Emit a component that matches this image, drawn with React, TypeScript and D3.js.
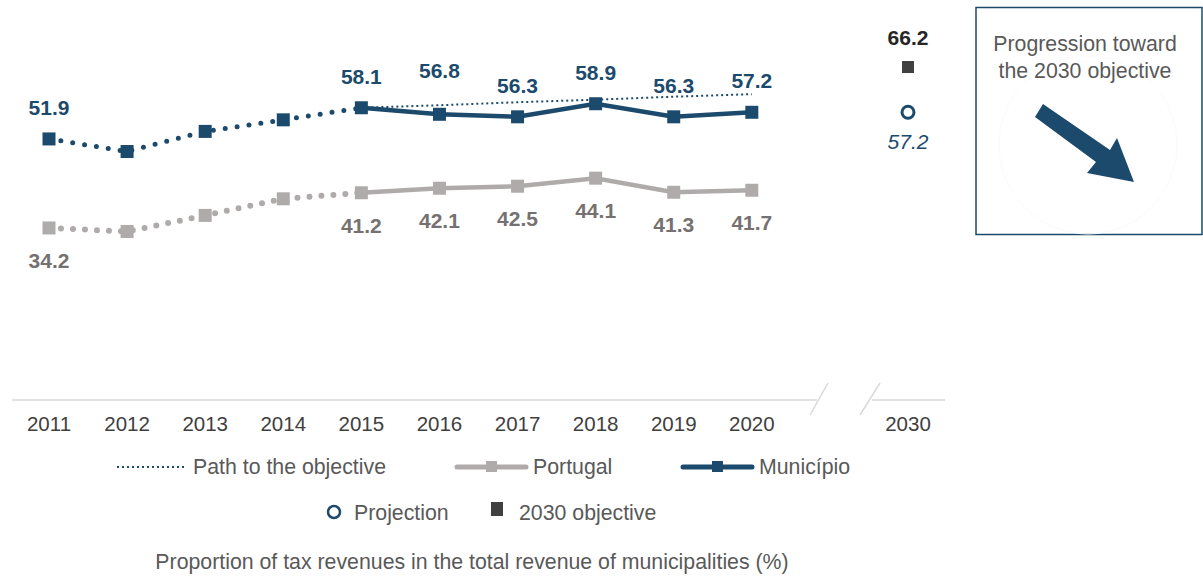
import React, { useEffect, useRef } from "react";
import * as d3 from "d3";

const years = ["2011", "2012", "2013", "2014", "2015", "2016", "2017", "2018", "2019", "2020"];
const slots = [...years, "gap", "2030"];
const municipio = [51.9, 49.4, 53.4, 55.7, 58.1, 56.8, 56.3, 58.9, 56.3, 57.2];
const portugal = [34.2, 33.5, 36.7, 40.0, 41.2, 42.1, 42.5, 44.1, 41.3, 41.7];
const pathYears = ["2015", "2016", "2017", "2018", "2019", "2020"];
const pathValues = [58.1, 58.6, 59.2, 59.7, 60.3, 60.8];
const labelledMunicipio = ["2011", "2015", "2016", "2017", "2018", "2019", "2020"];
const labelledPortugal = ["2011", "2015", "2016", "2017", "2018", "2019", "2020"];
const objective2030 = 66.2;
const projection2030 = 57.2;

const NAVY = "#1c4a6c";
const GREY = "#afabab";
const LABEL_GREY = "#767171";
const TEXT = "#595959";
const FONT = "'Liberation Sans', Arial, sans-serif";

const W = 1203;
const H = 577;

const App: React.FC = () => {
  const svgRef = useRef<SVGSVGElement | null>(null);

  useEffect(() => {
    if (!svgRef.current) return;
    const svg = d3.select(svgRef.current);
    svg.selectAll("*").remove();

    const x = d3.scalePoint<string>().domain(slots).range([49, 908]);
    const y = d3.scaleLinear().domain([0, objective2030]).range([400, 400 - objective2030 * 5.03]);

    const mun = years.map((yr, i) => ({ yr, v: municipio[i] }));
    const por = years.map((yr, i) => ({ yr, v: portugal[i] }));
    const line = d3
      .line<{ yr: string; v: number }>()
      .x((d) => x(d.yr)!)
      .y((d) => y(d.v));

    // axis with break
    const axisG = svg.append("g");
    axisG.append("line").attr("x1", 12).attr("x2", 817).attr("y1", 400).attr("y2", 400)
      .attr("stroke", "#d9d9d9").attr("stroke-width", 1.5);
    axisG.append("line").attr("x1", 872).attr("x2", 945).attr("y1", 400).attr("y2", 400)
      .attr("stroke", "#d9d9d9").attr("stroke-width", 1.5);
    [[828, 810], [880, 860]].forEach(([a, b]) => {
      axisG.append("line").attr("x1", a).attr("y1", 383).attr("x2", b).attr("y2", 415)
        .attr("stroke", "#d9d9d9").attr("stroke-width", 1.5);
    });
    [...years, "2030"].forEach((yr) => {
      axisG.append("text").attr("x", x(yr)!).attr("y", 431).attr("text-anchor", "middle")
        .attr("font-family", FONT).attr("font-size", 20.5).attr("fill", "#404040").text(yr);
    });

    // path to objective
    svg.append("path")
      .datum(pathYears.map((yr, i) => ({ yr, v: pathValues[i] })))
      .attr("d", line).attr("fill", "none").attr("stroke", NAVY).attr("stroke-width", 2)
      .attr("stroke-dasharray", "2,3");

    // Portugal
    svg.append("path").datum(por.slice(0, 5)).attr("d", line).attr("fill", "none")
      .attr("stroke", GREY).attr("stroke-width", 6).attr("stroke-linecap", "round")
      .attr("stroke-dasharray", "0,12");
    svg.append("path").datum(por.slice(4)).attr("d", line).attr("fill", "none")
      .attr("stroke", GREY).attr("stroke-width", 4.5);
    svg.selectAll(".mp").data(por).join("rect").attr("class", "mp")
      .attr("x", (d) => x(d.yr)! - 6.5).attr("y", (d) => y(d.v) - 6.5)
      .attr("width", 13).attr("height", 13).attr("fill", GREY);

    // Município
    svg.append("path").datum(mun.slice(0, 5)).attr("d", line).attr("fill", "none")
      .attr("stroke", NAVY).attr("stroke-width", 5).attr("stroke-linecap", "round")
      .attr("stroke-dasharray", "0,12");
    svg.append("path").datum(mun.slice(4)).attr("d", line).attr("fill", "none")
      .attr("stroke", NAVY).attr("stroke-width", 4.5);
    svg.selectAll(".mm").data(mun).join("rect").attr("class", "mm")
      .attr("x", (d) => x(d.yr)! - 6.5).attr("y", (d) => y(d.v) - 6.5)
      .attr("width", 13).attr("height", 13).attr("fill", NAVY);

    // labels
    svg.selectAll(".lm").data(mun.filter((d) => labelledMunicipio.includes(d.yr))).join("text")
      .attr("class", "lm").attr("x", (d) => x(d.yr)!)
      .attr("y", (d) => y(d.v) - (d.yr === "2016" ? 36 : 24))
      .attr("text-anchor", "middle").attr("font-family", FONT).attr("font-weight", "bold")
      .attr("font-size", 21).attr("fill", NAVY).text((d) => d.v.toFixed(1));
    svg.selectAll(".lp").data(por.filter((d) => labelledPortugal.includes(d.yr))).join("text")
      .attr("class", "lp").attr("x", (d) => x(d.yr)!).attr("y", (d) => y(d.v) + 40)
      .attr("text-anchor", "middle").attr("font-family", FONT).attr("font-weight", "bold")
      .attr("font-size", 21).attr("fill", LABEL_GREY).text((d) => d.v.toFixed(1));

    // 2030
    const x30 = x("2030")!;
    svg.append("rect").attr("x", x30 - 6).attr("y", y(objective2030) - 6).attr("width", 12)
      .attr("height", 12).attr("fill", "#404040");
    svg.append("text").attr("x", x30).attr("y", y(objective2030) - 22).attr("text-anchor", "middle")
      .attr("font-family", FONT).attr("font-weight", "bold").attr("font-size", 21)
      .attr("fill", "#262626").text(objective2030.toFixed(1));
    svg.append("circle").attr("cx", x30).attr("cy", y(projection2030)).attr("r", 6)
      .attr("fill", "#fff").attr("stroke", NAVY).attr("stroke-width", 3);
    svg.append("text").attr("x", x30).attr("y", y(projection2030) + 37).attr("text-anchor", "middle")
      .attr("font-family", FONT).attr("font-style", "italic").attr("font-size", 21)
      .attr("fill", NAVY).text(projection2030.toFixed(1));

    // legend
    const lg = svg.append("g").attr("font-family", FONT).attr("font-size", 21.3).attr("fill", TEXT);
    lg.append("line").attr("x1", 117).attr("x2", 186).attr("y1", 467).attr("y2", 467)
      .attr("stroke", NAVY).attr("stroke-width", 2).attr("stroke-dasharray", "2,3");
    lg.append("text").attr("x", 193).attr("y", 474).text("Path to the objective");
    lg.append("line").attr("x1", 457).attr("x2", 526).attr("y1", 467).attr("y2", 467)
      .attr("stroke", GREY).attr("stroke-width", 5).attr("stroke-linecap", "round");
    lg.append("rect").attr("x", 486).attr("y", 461).attr("width", 11).attr("height", 11).attr("fill", GREY);
    lg.append("text").attr("x", 533).attr("y", 474).text("Portugal");
    lg.append("line").attr("x1", 683).attr("x2", 752).attr("y1", 467).attr("y2", 467)
      .attr("stroke", NAVY).attr("stroke-width", 5).attr("stroke-linecap", "round");
    lg.append("rect").attr("x", 712).attr("y", 461).attr("width", 11).attr("height", 11).attr("fill", NAVY);
    lg.append("text").attr("x", 759).attr("y", 474).text("Município");
    lg.append("circle").attr("cx", 334).attr("cy", 512).attr("r", 6).attr("fill", "#fff")
      .attr("stroke", NAVY).attr("stroke-width", 2.5);
    lg.append("text").attr("x", 354).attr("y", 520).text("Projection");
    lg.append("rect").attr("x", 491).attr("y", 502).attr("width", 12).attr("height", 14).attr("fill", "#404040");
    lg.append("text").attr("x", 519).attr("y", 520).text("2030 objective");

    svg.append("text").attr("x", 472).attr("y", 569).attr("text-anchor", "middle")
      .attr("font-family", FONT).attr("font-size", 21.3).attr("fill", TEXT)
      .text("Proportion of tax revenues in the total revenue of municipalities (%)");

    // callout box
    const box = svg.append("g");
    box.append("rect").attr("x", 976).attr("y", 7.5).attr("width", 226).attr("height", 227)
      .attr("fill", "#fff").attr("stroke", NAVY).attr("stroke-width", 1.5);
    box.append("circle").attr("cx", 1088).attr("cy", 145).attr("r", 89).attr("fill", "none")
      .attr("stroke", "#fbfbfb").attr("stroke-width", 1);
    box.append("text").attr("x", 1085).attr("y", 51).attr("text-anchor", "middle")
      .attr("font-family", FONT).attr("font-size", 21.3).attr("fill", TEXT).text("Progression toward");
    box.append("text").attr("x", 1085).attr("y", 78).attr("text-anchor", "middle")
      .attr("font-family", FONT).attr("font-size", 21.3).attr("fill", TEXT).text("the 2030 objective");
    box.append("polygon")
      .attr("points", "1035,117 1043,104 1110,150 1117,138 1134,182 1087,173 1096,162")
      .attr("fill", NAVY);
  }, []);

  return (
    <svg ref={svgRef} width={W} height={H}
      style={{ position: "absolute", left: 0, top: 0, background: "#fff" }} />
  );
};

export default App;
